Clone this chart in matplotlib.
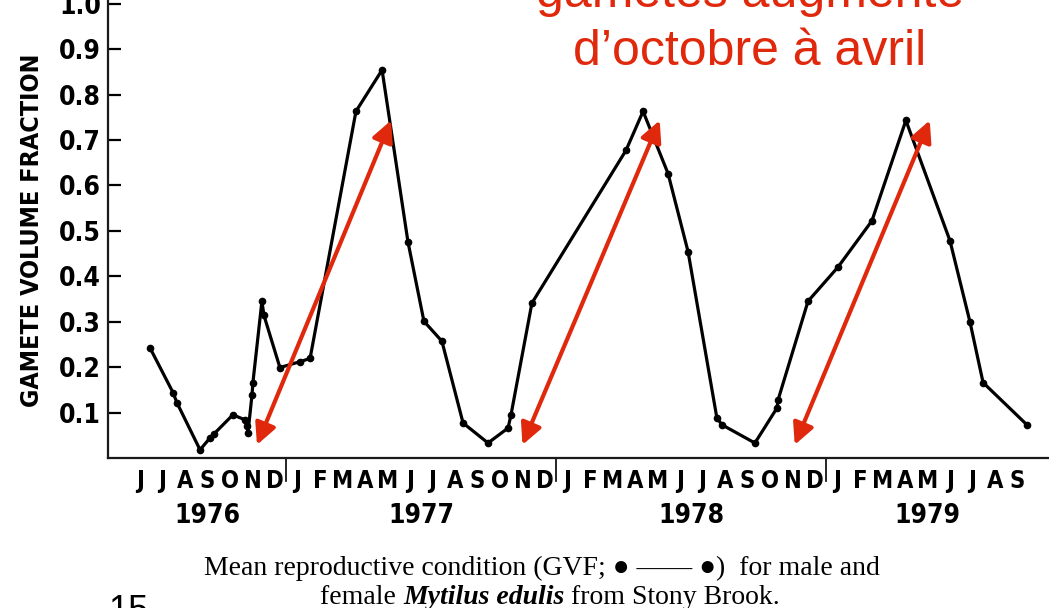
import numpy as np
import matplotlib
matplotlib.use("Agg")
import matplotlib.pyplot as plt
import matplotlib.transforms as mtransforms

# month index: 0 = June 1976
months = np.array([0.44, 1.47, 1.64, 2.67, 3.11, 3.29, 4.13, 4.67, 4.76, 4.80,
                   4.98, 5.02, 5.42, 5.51, 6.22, 7.11, 7.56, 9.60, 10.76, 11.91,
                   12.62, 13.42, 14.36, 15.47, 16.36, 16.49, 17.42, 21.60, 22.36,
                   23.47, 24.36, 25.64, 25.87, 27.33, 28.31, 28.36, 29.69, 31.02,
                   32.53, 34.04, 36.00, 36.89, 37.47, 39.42])
gvf = np.array([0.243, 0.144, 0.122, 0.018, 0.044, 0.053, 0.095, 0.084, 0.071, 0.055,
                0.139, 0.166, 0.345, 0.314, 0.199, 0.212, 0.219, 0.763, 0.854, 0.476,
                0.301, 0.257, 0.077, 0.033, 0.066, 0.095, 0.341, 0.677, 0.763,
                0.626, 0.454, 0.088, 0.073, 0.033, 0.110, 0.128, 0.345, 0.420,
                0.522, 0.743, 0.478, 0.299, 0.166, 0.073])

month_labels = list("JJASOND") + list("JFMAMJJASOND") * 2 + list("JFMAMJJAS")
years = ["1976", "1977", "1978", "1979"]
year_centers = [3.0, 12.5, 24.5, 35.0]
year_breaks = [6.5, 18.5, 30.5]
yticks = [0.1, 0.2, 0.3, 0.4, 0.5, 0.6, 0.7, 0.8, 0.9, 1.0]

# red double arrows (oct -> april)
arrow_low = [(5.2, 0.029), (17.0, 0.029), (29.1, 0.029)]
arrow_high = [(11.16, 0.743), (23.1, 0.743), (35.1, 0.743)]

red = "#e0280c"
cond = dict(family="DejaVu Sans", fontstretch="condensed", fontweight="bold")
serif = ["Liberation Serif", "DejaVu Serif"]

fig = plt.figure(figsize=(10.49, 6.08), dpi=100)
ax = fig.add_axes([108 / 1049, 150 / 608, 941 / 1049, 458 / 608])

ax.plot(months, gvf, color="black", lw=2.3, marker="o", ms=4.5)

ax.set_xlim(-1.42, 40.4)
ax.set_ylim(0, 1.008)
for s in ["top", "right"]:
    ax.spines[s].set_visible(False)
for s in ["left", "bottom"]:
    ax.spines[s].set_linewidth(1.6)
    ax.spines[s].set_color("#1a1a1a")

ax.set_yticks(yticks)
ax.set_yticklabels([f"{v:.1f}" for v in yticks], fontsize=19, **cond)
ax.tick_params(axis="y", direction="in", length=9, width=1.6, pad=5)

ax.set_xticks(range(len(month_labels)))
ax.set_xticklabels(month_labels, fontsize=17, **cond)
ax.tick_params(axis="x", length=0, pad=8)

trans = mtransforms.blended_transform_factory(ax.transData, ax.transAxes)
for xb in year_breaks:
    ax.plot([xb, xb], [0, -0.05], transform=trans, color="black", lw=1.2,
            clip_on=False)
for yr, xc in zip(years, year_centers):
    ax.text(xc, -0.126, yr, transform=trans, ha="center", va="center",
            fontsize=19, **cond)

for (x0, y0), (x1, y1) in zip(arrow_low, arrow_high):
    ax.annotate("", xy=(x1, y1), xytext=(x0, y0),
                arrowprops=dict(arrowstyle="<|-|>", color=red, lw=3,
                                mutation_scale=32, shrinkA=0, shrinkB=0))

fig.text(32 / 1049, 1 - 230 / 608, "GAMETE VOLUME FRACTION", rotation=90,
         ha="center", va="center", fontsize=18, **cond)

# red annotation text (top line cut by the frame)
fig.text(750 / 1049, 1 - 7 / 608, "gamètes augmente", ha="center",
         va="baseline", color=red, fontsize=36, family="Liberation Sans")
fig.text(750 / 1049, 1 - 65 / 608, "d\u2019octobre à avril", ha="center",
         va="baseline", color=red, fontsize=36, family="Liberation Sans")

# caption
fig.text(542 / 1049, 1 - 568 / 608,
         "Mean reproductive condition (GVF; \u25cf \u2014\u2014 \u25cf)  for male and",
         ha="center", va="center", family=serif, fontsize=20)
renderer = fig.canvas.get_renderer()
parts = [("female ", "normal", "normal"),
         ("Mytilus edulis", "italic", "bold"),
         (" from Stony Brook.", "normal", "normal")]
texts = []
for s, st, wt in parts:
    texts.append(fig.text(0, 1 - 597 / 608, s, ha="left", va="center",
                          family=serif, fontsize=20, style=st, fontweight=wt))
widths = [t.get_window_extent(renderer).width for t in texts]
x = 550 - sum(widths) / 2
for t, w in zip(texts, widths):
    t.set_x(x / 1049)
    x += w

fig.text(108 / 1049, 1 - 594 / 608, "15", ha="left", va="top",
         family="Liberation Sans", fontsize=26)

fig.savefig("out.png", dpi=100)
